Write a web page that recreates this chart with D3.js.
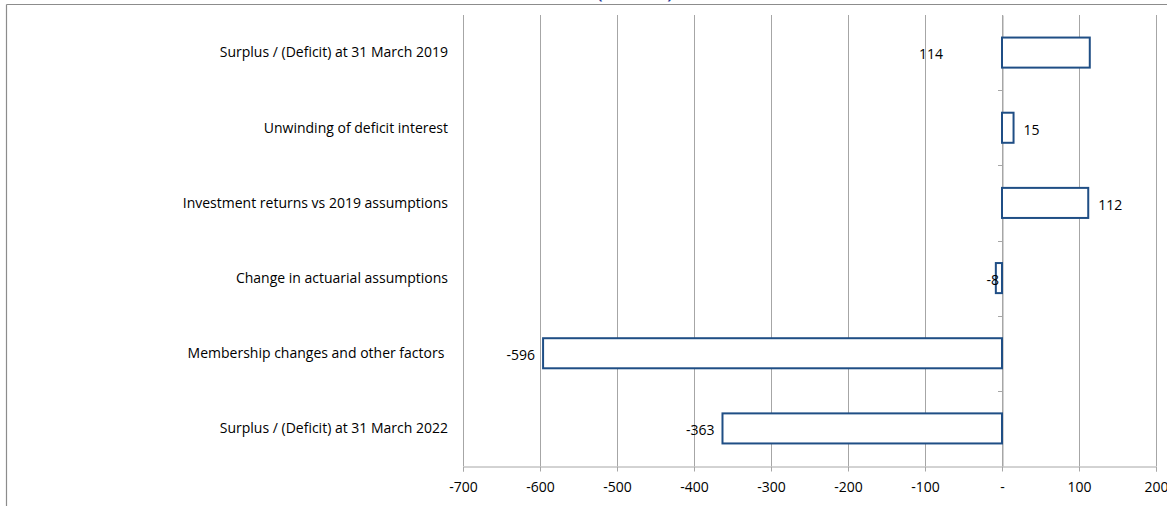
<!DOCTYPE html>
<html><head><meta charset="utf-8">
<script src="https://cdn.jsdelivr.net/npm/d3@7"></script>
<style>
html,body{margin:0;padding:0;background:#fff;overflow:hidden}
svg{display:block;font-family:"Open Sans","Liberation Sans",Arial,sans-serif}
</style></head>
<body>
<svg id="chart" width="1167" height="506"></svg>
<script>
const categories = [
  "Surplus / (Deficit) at 31 March 2019",
  "Unwinding of deficit interest",
  "Investment returns vs 2019 assumptions",
  "Change in actuarial assumptions",
  "Membership changes and other factors ",
  "Surplus / (Deficit) at 31 March 2022"
];
const values = [114, 15, 112, -8, -596, -363];
const tickValues = [-700, -600, -500, -400, -300, -200, -100, 0, 100, 200];
const tickLabels = ["-700", "-600", "-500", "-400", "-300", "-200", "-100", "-", "100", "200"];
const titleText = "(£ million)";

const FONT = "'Open Sans','Liberation Sans',Arial,sans-serif";
const FS = 14;
const svg = d3.select("#chart");
const W = 1167, H = 506;
const plot = {left: 463, right: 1156, top: 15, bottom: 466};

const x = d3.scaleLinear().domain([-700, 200]).range([plot.left, plot.right]);
const y = d3.scaleBand().domain(categories).range([plot.top, plot.bottom]).paddingInner(0.6).paddingOuter(0.3);
const yb = d3.scaleBand().domain(categories).range([plot.top, plot.bottom]);

const gridCol = "#a6a6a6";
const barCol = "#1f4e85";

// frame
svg.append("line").attr("x1", 6.5).attr("x2", W).attr("y1", 4.5).attr("y2", 4.5).attr("stroke", "#8c8c8c").attr("stroke-width", 1.2);
svg.append("line").attr("x1", 6.5).attr("x2", 6.5).attr("y1", 4.5).attr("y2", H).attr("stroke", "#8c8c8c").attr("stroke-width", 1.2);

// title (mostly clipped above the view, as in the reference)
svg.append("text").attr("x", 635).attr("y", -1.5).attr("text-anchor", "middle")
  .attr("font-size", 15).attr("font-weight", "bold").attr("fill", "#2b3a9c")
  .attr("font-family", FONT).text(titleText);

// gridlines
svg.append("g").selectAll("line").data(tickValues).join("line")
  .attr("x1", d => Math.round(x(d)) + 0.5).attr("x2", d => Math.round(x(d)) + 0.5)
  .attr("y1", plot.top).attr("y2", plot.bottom)
  .attr("stroke", gridCol).attr("stroke-width", 1);

// bottom axis
const xAxis = d3.axisBottom(x).tickValues(tickValues).tickFormat((d, i) => tickLabels[i]).tickSize(5).tickPadding(11);
const gx = svg.append("g").attr("transform", `translate(0,${plot.bottom + 0.5})`).call(xAxis);
gx.select(".domain").attr("stroke", gridCol);
gx.selectAll(".tick line").attr("stroke", gridCol);
gx.selectAll(".tick text").attr("font-size", FS).attr("fill", "#000").attr("font-family", FONT);

// vertical category axis at zero
const yAxis = d3.axisLeft(yb).tickSize(0).tickFormat("");
const gy = svg.append("g").attr("transform", `translate(${Math.round(x(0)) + 0.5},0)`).call(yAxis);
gy.select(".domain").attr("stroke", gridCol);
// small ticks at band boundaries
svg.append("g").selectAll("line").data(categories.slice(1)).join("line")
  .attr("x1", Math.round(x(0)) - 4).attr("x2", Math.round(x(0)) + 0.5)
  .attr("y1", d => Math.round(yb(d)) + 0.5).attr("y2", d => Math.round(yb(d)) + 0.5)
  .attr("stroke", gridCol);

// category labels
svg.append("g").selectAll("text").data(categories).join("text")
  .attr("x", 448).attr("y", d => yb(d) + yb.bandwidth() / 2)
  .attr("dy", "0.35em").attr("text-anchor", "end").attr("font-size", FS)
  .attr("font-family", FONT)
  .attr("fill", "#000").style("white-space", "pre").text(d => d);

// bars
svg.append("g").selectAll("rect").data(values).join("rect")
  .attr("x", d => x(Math.min(0, d)))
  .attr("y", (d, i) => y(categories[i]))
  .attr("width", d => Math.abs(x(d) - x(0)))
  .attr("height", y.bandwidth())
  .attr("fill", "#fff").attr("stroke", barCol).attr("stroke-width", 2);

// data labels
function labelX(d, i) {
  if (i === 0) return x(-100) - 6;
  if (d >= 0) return x(d) + 10;
  if (Math.abs(d) < 20) return x(0) - 3;
  return x(d) - 8;
}
svg.append("g").selectAll("text").data(values).join("text")
  .attr("x", labelX)
  .attr("y", (d, i) => yb(categories[i]) + yb.bandwidth() / 2 + 2)
  .attr("dy", "0.35em")
  .attr("text-anchor", (d, i) => i === 0 ? "start" : (d >= 0 ? "start" : "end"))
  .attr("font-size", FS).attr("fill", "#000").attr("font-family", FONT)
  .text(d => d);
</script>
</body></html>
